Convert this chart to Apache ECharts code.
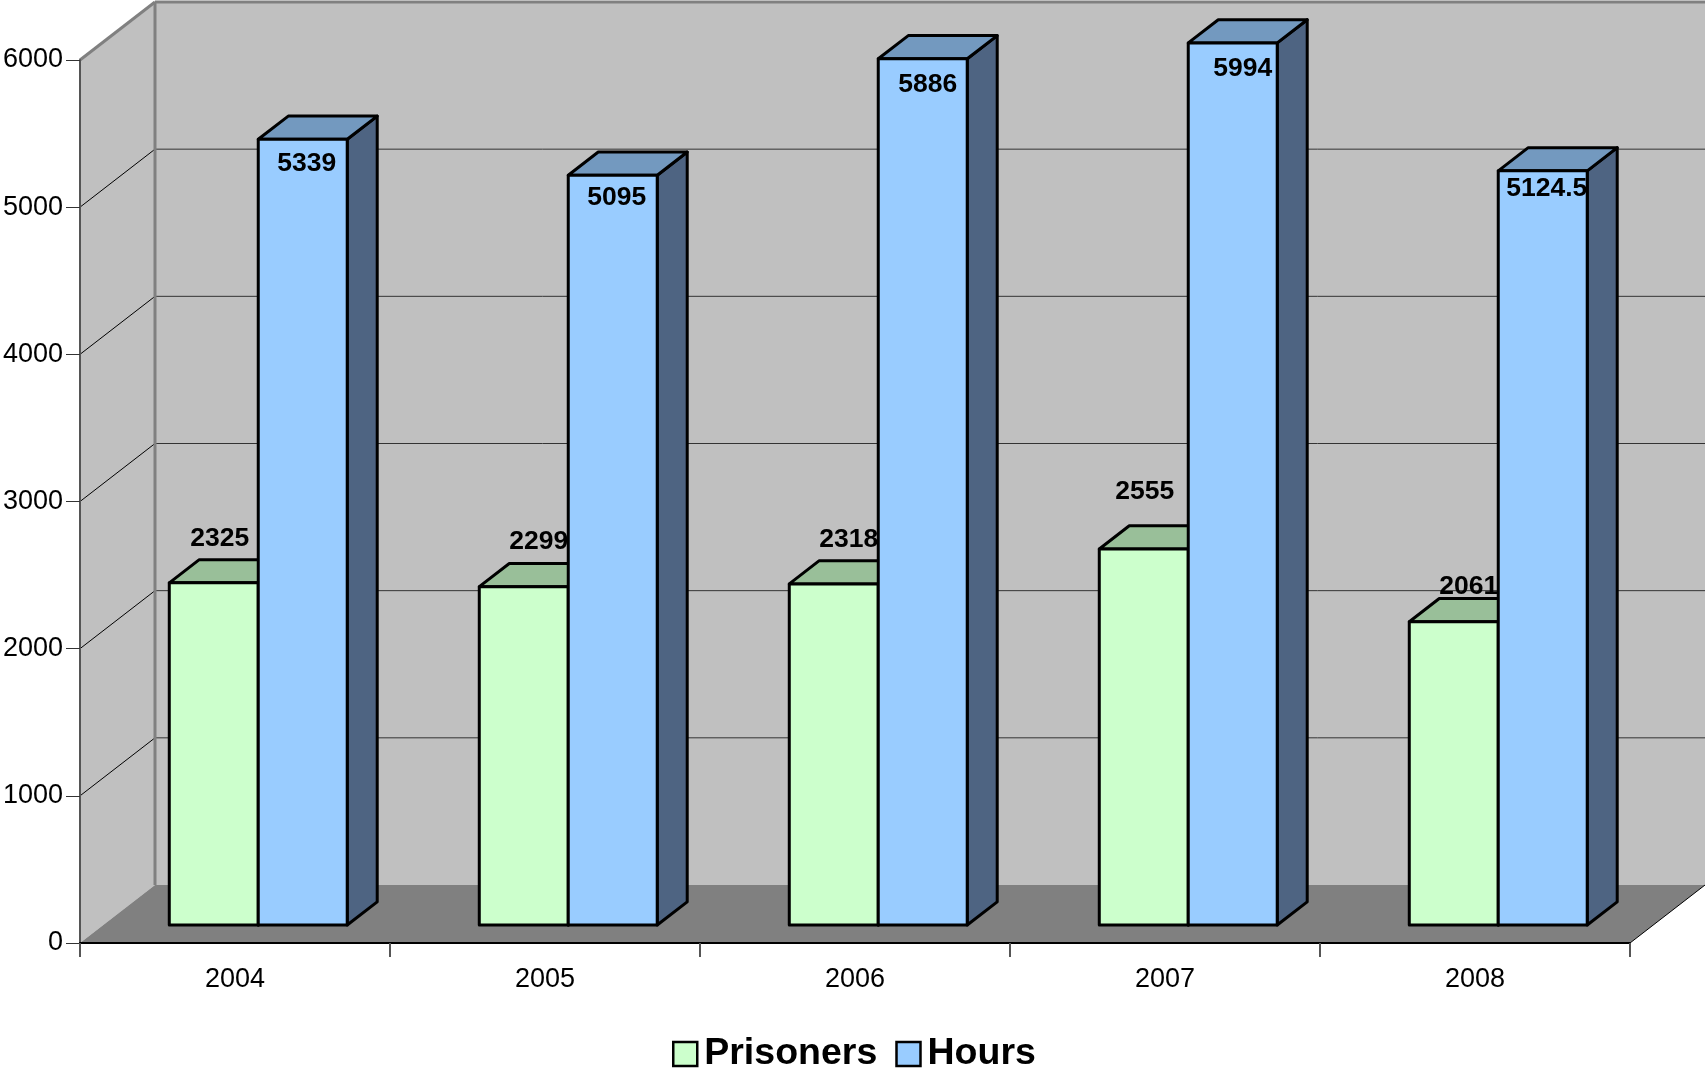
<!DOCTYPE html>
<html>
<head>
<meta charset="utf-8">
<title>Prisoners and Hours</title>
<script src="https://cdn.jsdelivr.net/npm/echarts@6/dist/echarts.min.js"></script>
<style>
  html, body { margin: 0; padding: 0; background: #fff; }
  #chart { width: 1705px; height: 1068px; }
</style>
</head>
<body>
<div id="chart"></div>
<script>
var years = ["2004", "2005", "2006", "2007", "2008"];
var prisoners = [2325, 2299, 2318, 2555, 2061];
var hours = [5339, 5095, 5886, 5994, 5124.5];
var yTicks = [0, 1000, 2000, 3000, 4000, 5000, 6000];

// value labels were hand placed in the original, so they need a nudge per bar
var prisonersLabelDx = [6, 15, 15, 1, 15];
var prisonersLabelDy = [-44, -45, -44, -57, -35];
var hoursLabelDx = [4, 4, 5, 10, 4];
var hoursLabelDy = [24, 22, 26, 26, 18];

var FONT = '"Liberation Sans", Arial, sans-serif';
var DEPTH_X = 75;
var DEPTH_Y = 58;
var BAR_START = 0.31; // where bars begin on the floor, as a share of the depth
var BAR_DEPTH = 0.4;
var BAR_WIDTH = 0.287; // share of one category band

function poly(points, fill, z2) {
  return {
    type: "polygon",
    z2: z2,
    shape: { points: points },
    style: { fill: fill, stroke: "#000", lineWidth: 3, lineJoin: "round" },
  };
}

function line(x1, y1, x2, y2, color, width) {
  return {
    type: "line",
    shape: { x1: x1, y1: y1, x2: x2, y2: y2 },
    style: { stroke: color, lineWidth: width },
  };
}

function renderWalls(params, api) {
  var band = api.size([1, 0])[0];
  var left = api.coord([0, 0])[0] - band / 2;
  var right = api.coord([years.length - 1, 0])[0] + band / 2;
  var bottom = api.coord([0, 0])[1];
  var top = api.coord([0, 6000])[1];
  var bx = left + DEPTH_X;
  var rx = right + DEPTH_X;
  var children = [
    { type: "polygon", shape: { points: [[bx, top - DEPTH_Y], [rx, top - DEPTH_Y], [rx, bottom - DEPTH_Y], [bx, bottom - DEPTH_Y]] }, style: { fill: "#c0c0c0" } },
    { type: "polygon", shape: { points: [[left, top], [bx, top - DEPTH_Y], [bx, bottom - DEPTH_Y], [left, bottom]] }, style: { fill: "#c0c0c0" } },
    { type: "polygon", shape: { points: [[left, bottom], [bx, bottom - DEPTH_Y], [rx, bottom - DEPTH_Y], [right, bottom]] }, style: { fill: "#808080" } },
  ];
  yTicks.forEach(function (t) {
    if (t === 0 || t === 6000) return;
    var y = api.coord([0, t])[1];
    children.push(line(left, y, bx, y - DEPTH_Y, "#000", 1));
    children.push(line(bx, y - DEPTH_Y, rx, y - DEPTH_Y, "#333", 1));
  });
  children.push(line(right, bottom, rx, bottom - DEPTH_Y, "#000", 1));
  children.push(line(left, top, bx, top - DEPTH_Y, "#808080", 3));
  children.push(line(bx, top - DEPTH_Y, rx, top - DEPTH_Y, "#808080", 3));
  children.push(line(bx, top - DEPTH_Y, bx, bottom - DEPTH_Y, "#808080", 3));
  return { type: "group", children: children };
}

function barRenderer(side, front, topFace, darkFace, labelDx, labelDy) {
  return function (params, api) {
    var i = api.value(0);
    var p = api.coord([i, api.value(1)]);
    var p0 = api.coord([i, 0]);
    var band = api.size([1, 0])[0];
    var w = band * BAR_WIDTH;
    var sx = DEPTH_X * BAR_START;
    var sy = DEPTH_Y * BAR_START;
    var dx = DEPTH_X * BAR_DEPTH;
    var dy = DEPTH_Y * BAR_DEPTH;
    var x1 = p0[0] + sx + (side < 0 ? -w : 0);
    var x2 = x1 + w;
    var yTop = p[1] - sy;
    var yBase = p0[1] - sy;
    return {
      type: "group",
      children: [
        poly([[x2, yTop], [x2 + dx, yTop - dy], [x2 + dx, yBase - dy], [x2, yBase]], darkFace, 1),
        poly([[x1, yTop], [x1 + dx, yTop - dy], [x2 + dx, yTop - dy], [x2, yTop]], topFace, 1),
        poly([[x1, yTop], [x2, yTop], [x2, yBase], [x1, yBase]], front, 2),
        {
          type: "text",
          z2: 100,
          x: (x1 + x2) / 2 + labelDx[i],
          y: yTop + labelDy[i],
          style: {
            text: String(api.value(1)),
            fill: "#000",
            font: "bold 26.5px " + FONT,
            align: "center",
            verticalAlign: "middle",
          },
        },
      ],
    };
  };
}

var chartDom = document.getElementById("chart");
var myChart = echarts.init(chartDom);
var option;

option = {
  animation: false,
  backgroundColor: "#fff",
  textStyle: { fontFamily: FONT },
  grid: {
    left: 80,
    top: 60,
    width: 1550,
    height: 883,
    containLabel: false,
    outerBoundsMode: "none",
  },
  legend: {
    left: 667,
    top: 1030,
    itemWidth: 24,
    itemHeight: 24,
    itemGap: 18,
    icon: "rect",
    selectedMode: false,
    itemStyle: { borderColor: "#000", borderWidth: 2.5 },
    textStyle: {
      color: "#000",
      fontSize: 37.5,
      fontWeight: "bold",
      fontFamily: FONT,
      padding: [0, 0, 0, 2],
    },
    data: [
      { name: "Prisoners", itemStyle: { color: "#ccffcc" } },
      { name: "Hours", itemStyle: { color: "#99ccff" } },
    ],
  },
  xAxis: {
    type: "category",
    data: years,
    axisLine: { lineStyle: { color: "#000", width: 2 } },
    axisTick: { show: true, length: 14, lineStyle: { color: "#555", width: 2 } },
    axisLabel: { color: "#000", fontSize: 27, margin: 23, fontFamily: FONT },
  },
  yAxis: {
    type: "value",
    min: 0,
    max: 6000,
    interval: 1000,
    axisLine: { show: true, lineStyle: { color: "#555", width: 2 } },
    axisTick: { show: true, length: 14, lineStyle: { color: "#333", width: 1 } },
    axisLabel: {
      color: "#000",
      fontSize: 27,
      margin: 17,
      padding: [2, 0, 0, 0],
      fontFamily: FONT,
      formatter: function (v) { return String(v); },
    },
    splitLine: { show: false },
  },
  series: [
    {
      type: "custom",
      name: "walls",
      z: -1,
      silent: true,
      renderItem: renderWalls,
      data: [[0, 0]],
    },
    {
      type: "custom",
      name: "Prisoners",
      itemStyle: { color: "#ccffcc" },
      renderItem: barRenderer(-1, "#ccffcc", "#99bf99", "#668066", prisonersLabelDx, prisonersLabelDy),
      encode: { x: 0, y: 1 },
      data: prisoners.map(function (v, i) { return [i, v]; }),
    },
    {
      type: "custom",
      name: "Hours",
      itemStyle: { color: "#99ccff" },
      renderItem: barRenderer(1, "#99ccff", "#7399bf", "#4e6482", hoursLabelDx, hoursLabelDy),
      encode: { x: 0, y: 1 },
      data: hours.map(function (v, i) { return [i, v]; }),
    },
  ],
};

option && myChart.setOption(option);
</script>
</body>
</html>
